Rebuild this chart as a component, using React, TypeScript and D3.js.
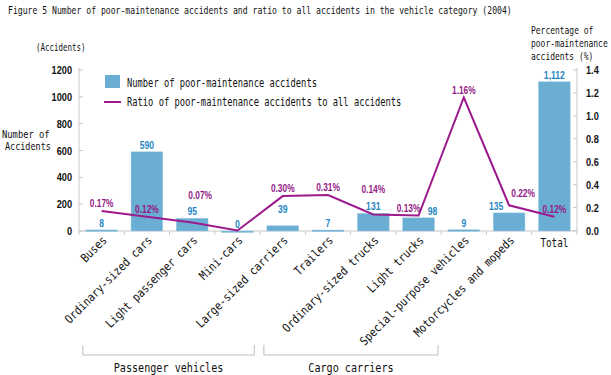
import React from "react";
import * as d3 from "d3";

const categories = [
  "Buses",
  "Ordinary-sized cars",
  "Light passenger cars",
  "Mini-cars",
  "Large-sized carriers",
  "Trailers",
  "Ordinary-sized trucks",
  "Light trucks",
  "Special-purpose vehicles",
  "Motorcycles and mopeds",
  "Total",
];
const counts = [8, 590, 95, 0, 39, 7, 131, 98, 9, 135, 1112];
const ratios = [0.17, 0.12, 0.07, 0, 0.3, 0.31, 0.14, 0.13, 1.16, 0.22, 0.12];
const ratioShown = [true, true, true, false, true, true, true, true, true, true, true];
const leftTicks = [0, 200, 400, 600, 800, 1000, 1200];
const rightTicks = [0, 0.2, 0.4, 0.6, 0.8, 1.0, 1.2, 1.4];
const groupNames = ["Passenger vehicles", "Cargo carriers"];
const groupStart = [0, 4];
const groupEnd = [3, 8];

// label nudges (px)
const countDx = [0, 0, 0, 0, 0, 0, 0, 14, 0, -13, 0];
const countDy = [0, 0, 0, 0, -10, 0, 0, 0, 0, 0, 0];
const ratioDx = [0, 0, 8, 0, 0, 0, 0, -10, 0, 14, 0];
const ratioDy = [0, 0, -19, 0, 0, 0, -17, 0, 0, -4, 0];

const W = 611;
const H = 375;
const M = { left: 79, right: 577, top: 70, bottom: 231 };

const MONO = "'DejaVu Sans Mono', monospace";
const SANS = "'Liberation Sans', Arial, sans-serif";

const BAR = "#6aaed3";
const LINE = "#9c1a8c";
const BLUE_TXT = "#1f86c2";
const PURPLE_TXT = "#921a86";
const AXIS = "#c8c8c8";

// monospace text with a given per-character advance (cw) and visual height (size)
function Mono({ x, y, text, cw, size = 10, anchor = "start", rotate = 0 }: any) {
  const fs = cw / 0.602;
  const ky = size / fs;
  return (
    <g transform={`translate(${x},${y}) rotate(${rotate}) scale(1,${ky})`}>
      <text x={0} y={0} fontFamily={MONO} fontSize={fs} textAnchor={anchor} fill="#111">
        {text}
      </text>
    </g>
  );
}

function Narrow({ x, y, text, size = 11, anchor = "middle", fill = "#111", sx = 0.78 }: any) {
  return (
    <g transform={`translate(${x},${y}) scale(${sx},1)`}>
      <text x={0} y={0} fontFamily={SANS} fontWeight="bold" fontSize={size} textAnchor={anchor} fill={fill}>
        {text}
      </text>
    </g>
  );
}

export default function App() {
  const x = d3
    .scaleBand<number>()
    .domain(categories.map((_, i) => i))
    .range([M.left, M.right])
    .paddingInner(0.3)
    .paddingOuter(0.15);
  const step = x.step();
  const bw = x.bandwidth();
  const cx = (i: number) => (x(i) as number) + bw / 2;
  const yL = d3.scaleLinear().domain([0, 1200]).range([M.bottom, M.top]);
  const yR = d3.scaleLinear().domain([0, 1.4]).range([M.bottom - 0.5, M.top]);
  const line = d3
    .line<number>()
    .x((_, i) => cx(i))
    .y((d) => yR(d));
  const fmt = d3.format(",");

  return (
    <svg width={W} height={H} style={{ position: "absolute", left: 0, top: 0, background: "#fff" }}>
      <rect width={W} height={H} fill="#fff" />
      <Mono x={8} y={14} text="Figure 5  Number of poor-maintenance accidents and ratio to all accidents in the vehicle category (2004)" cw={4.9} size={11} />
      <Mono x={36} y={51} text="(Accidents)" cw={4.5} size={11} />
      <Mono x={2} y={138} text="Number of" cw={5.3} size={11} />
      <Mono x={5} y={150} text="Accidents" cw={5.1} size={11} />
      <Mono x={531} y={34} text="Percentage of" cw={4.8} size={11} />
      <Mono x={531} y={47} text="poor-maintenance" cw={4.8} size={11} />
      <Mono x={531} y={60} text="accidents  (%)" cw={4.8} size={11} />

      {/* legend */}
      <rect x={105} y={75} width={15} height={13} fill={BAR} />
      <Mono x={127} y={87} text="Number of poor-maintenance accidents" cw={5.28} size={11.5} />
      <line x1={104} x2={121} y1={102} y2={102} stroke={LINE} strokeWidth={2} />
      <Mono x={127} y={106} text="Ratio of poor-maintenance accidents to all accidents" cw={5.28} size={11.5} />

      {/* axes */}
      <line x1={M.left} x2={M.left} y1={M.top - 2} y2={M.bottom} stroke={AXIS} />
      <line x1={M.right} x2={M.right} y1={M.top - 2} y2={M.bottom} stroke={AXIS} />
      <line x1={M.left} x2={M.right} y1={M.bottom} y2={M.bottom} stroke={AXIS} />
      {leftTicks.map((t) => (
        <g key={"l" + t}>
          <line x1={M.left} x2={M.left + 4} y1={yL(t)} y2={yL(t)} stroke={AXIS} />
          <Narrow x={72} y={yL(t) + 4} text={String(t)} size={11.5} anchor="end" sx={0.8} />
        </g>
      ))}
      {rightTicks.map((t) => (
        <g key={"r" + t}>
          <line x1={M.right - 4} x2={M.right} y1={yR(t)} y2={yR(t)} stroke={AXIS} />
          <Narrow x={586} y={yR(t) + 4} text={d3.format(".1f")(t)} size={11.5} anchor="start" sx={0.8} />
        </g>
      ))}
      {d3.range(categories.length + 1).map((i) => (
        <line key={"s" + i} x1={M.left + i * step} x2={M.left + i * step} y1={M.bottom} y2={M.bottom + 4} stroke={AXIS} />
      ))}

      {/* bars */}
      {counts.map((v, i) => (
        <rect key={"b" + i} x={x(i)} y={yL(v)} width={bw} height={Math.max(M.bottom - yL(v), 1.5)} fill={BAR} stroke="#9cc9e2" strokeWidth={0.5} />
      ))}

      {/* line */}
      <path d={line(ratios) || ""} fill="none" stroke={LINE} strokeWidth={2} />

      {/* count labels */}
      {counts.map((v, i) => (
        <Narrow key={"c" + i} x={cx(i) + countDx[i]} y={yL(v) - 3 + countDy[i]} text={fmt(v)} size={11} fill={BLUE_TXT} sx={0.78} />
      ))}
      {/* ratio labels */}
      {ratios.map((v, i) =>
        ratioShown[i] ? (
          <Narrow key={"p" + i} x={cx(i) + ratioDx[i]} y={yR(v) - 4 + ratioDy[i]} text={d3.format(".2f")(v) + "%"} size={11} fill={PURPLE_TXT} sx={0.76} />
        ) : null
      )}

      {/* category labels */}
      {categories.map((c, i) =>
        i === categories.length - 1 ? (
          <Mono key={"t" + i} x={cx(i)} y={247} text={c} cw={5.6} size={12} anchor="middle" />
        ) : (
          <Mono key={"t" + i} x={cx(i) + 6} y={241} text={c} cw={6.2} size={12} anchor="end" rotate={-45} />
        )
      )}

      {/* group brackets */}
      {groupNames.map((g, k) => {
        const x0 = (x(groupStart[k]) as number) - 3;
        const x1 = k === 0 ? (x(groupEnd[k]) as number) + bw + 1 : (x(groupEnd[k]) as number) - 10;
        return (
          <g key={"g" + k}>
            <path d={`M${x0},345V355H${x1}V345`} fill="none" stroke="#bdbdbd" />
            <Mono x={(x0 + x1) / 2} y={372} text={g} cw={6.1} size={12.5} anchor="middle" />
          </g>
        );
      })}
    </svg>
  );
}
